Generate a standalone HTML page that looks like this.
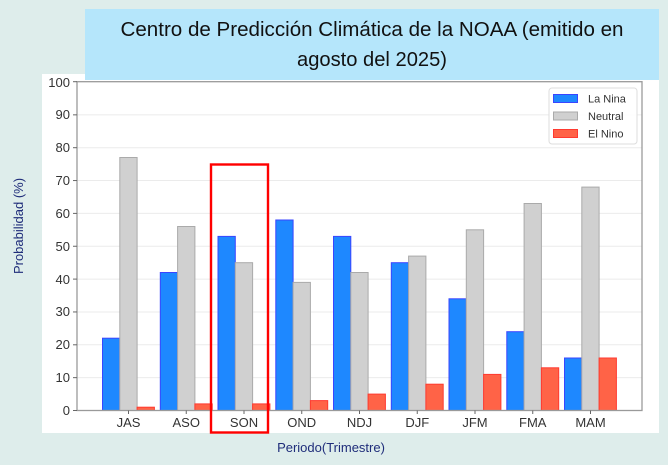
<!DOCTYPE html>
<html><head><meta charset="utf-8"><style>
html,body{margin:0;padding:0;background:#deedeb;}
svg{display:block;}
</style></head><body>
<svg width="668" height="465" viewBox="0 0 668 465" xmlns="http://www.w3.org/2000/svg" font-family="Liberation Sans, DejaVu Sans, sans-serif">
<rect x="0" y="0" width="668" height="465" fill="#deedeb"/>
<!-- white figure -->
<rect x="42" y="74" width="617" height="359" fill="#ffffff"/>
<!-- banner -->
<rect x="85" y="9" width="574" height="71" fill="#b5e6fb"/>
<text x="372" y="36" font-size="20" text-anchor="middle" fill="#111" textLength="503" lengthAdjust="spacingAndGlyphs">Centro de Predicción Climática de la NOAA (emitido en</text>
<text x="372" y="66" font-size="20" text-anchor="middle" fill="#111" textLength="150" lengthAdjust="spacingAndGlyphs">agosto del 2025)</text>
<!-- grid -->
<g stroke="#ebebeb" stroke-width="1">
<line x1="77" x2="642" y1="377.65" y2="377.65"/>
<line x1="77" x2="642" y1="344.8" y2="344.8"/>
<line x1="77" x2="642" y1="311.95" y2="311.95"/>
<line x1="77" x2="642" y1="279.1" y2="279.1"/>
<line x1="77" x2="642" y1="246.25" y2="246.25"/>
<line x1="77" x2="642" y1="213.4" y2="213.4"/>
<line x1="77" x2="642" y1="180.55" y2="180.55"/>
<line x1="77" x2="642" y1="147.7" y2="147.7"/>
<line x1="77" x2="642" y1="114.85" y2="114.85"/>
</g>
<!-- bars -->
<g stroke-width="1">
<!-- JAS c=128.5 -->
<rect x="102.5" y="338.2" width="17.3" height="72.3" fill="#1e88ff" stroke="#3a45ff"/>
<rect x="119.8" y="157.5" width="17.3" height="253" fill="#d0d0d0" stroke="#aaaaaa"/>
<rect x="137.1" y="407.2" width="17.3" height="3.3" fill="#ff6347" stroke="#ff3a30"/>
<!-- ASO c=186.25 -->
<rect x="160.3" y="272.5" width="17.3" height="138" fill="#1e88ff" stroke="#3a45ff"/>
<rect x="177.6" y="226.5" width="17.3" height="184" fill="#d0d0d0" stroke="#aaaaaa"/>
<rect x="194.9" y="403.9" width="17.3" height="6.6" fill="#ff6347" stroke="#ff3a30"/>
<!-- SON c=244 -->
<rect x="218" y="236.4" width="17.3" height="174.1" fill="#1e88ff" stroke="#3a45ff"/>
<rect x="235.3" y="262.7" width="17.3" height="147.8" fill="#d0d0d0" stroke="#aaaaaa"/>
<rect x="252.6" y="403.9" width="17.3" height="6.6" fill="#ff6347" stroke="#ff3a30"/>
<!-- OND c=301.75 -->
<rect x="275.8" y="220" width="17.3" height="190.5" fill="#1e88ff" stroke="#3a45ff"/>
<rect x="293.1" y="282.4" width="17.3" height="128.1" fill="#d0d0d0" stroke="#aaaaaa"/>
<rect x="310.4" y="400.6" width="17.3" height="9.9" fill="#ff6347" stroke="#ff3a30"/>
<!-- NDJ c=359.5 -->
<rect x="333.5" y="236.4" width="17.3" height="174.1" fill="#1e88ff" stroke="#3a45ff"/>
<rect x="350.8" y="272.5" width="17.3" height="138" fill="#d0d0d0" stroke="#aaaaaa"/>
<rect x="368.1" y="394.1" width="17.3" height="16.4" fill="#ff6347" stroke="#ff3a30"/>
<!-- DJF c=417.25 -->
<rect x="391.3" y="262.7" width="17.3" height="147.8" fill="#1e88ff" stroke="#3a45ff"/>
<rect x="408.6" y="256.1" width="17.3" height="154.4" fill="#d0d0d0" stroke="#aaaaaa"/>
<rect x="425.9" y="384.2" width="17.3" height="26.3" fill="#ff6347" stroke="#ff3a30"/>
<!-- JFM c=475 -->
<rect x="449" y="298.8" width="17.3" height="111.7" fill="#1e88ff" stroke="#3a45ff"/>
<rect x="466.3" y="229.8" width="17.3" height="180.7" fill="#d0d0d0" stroke="#aaaaaa"/>
<rect x="483.6" y="374.4" width="17.3" height="36.1" fill="#ff6347" stroke="#ff3a30"/>
<!-- FMA c=532.75 -->
<rect x="506.8" y="331.7" width="17.3" height="78.8" fill="#1e88ff" stroke="#3a45ff"/>
<rect x="524.1" y="203.5" width="17.3" height="207" fill="#d0d0d0" stroke="#aaaaaa"/>
<rect x="541.4" y="367.8" width="17.3" height="42.7" fill="#ff6347" stroke="#ff3a30"/>
<!-- MAM c=590.5 -->
<rect x="564.5" y="358" width="17.3" height="52.5" fill="#1e88ff" stroke="#3a45ff"/>
<rect x="581.8" y="187.1" width="17.3" height="223.4" fill="#d0d0d0" stroke="#aaaaaa"/>
<rect x="599.1" y="358" width="17.3" height="52.5" fill="#ff6347" stroke="#ff3a30"/>
</g>
<!-- spines -->
<rect x="77" y="81.7" width="565" height="328.8" fill="none" stroke="#9a9a9a" stroke-width="1.3"/>
<!-- y ticks -->
<g stroke="#666" stroke-width="1">
<line x1="73" x2="77" y1="410.5" y2="410.5"/>
<line x1="73" x2="77" y1="377.65" y2="377.65"/>
<line x1="73" x2="77" y1="344.8" y2="344.8"/>
<line x1="73" x2="77" y1="311.95" y2="311.95"/>
<line x1="73" x2="77" y1="279.1" y2="279.1"/>
<line x1="73" x2="77" y1="246.25" y2="246.25"/>
<line x1="73" x2="77" y1="213.4" y2="213.4"/>
<line x1="73" x2="77" y1="180.55" y2="180.55"/>
<line x1="73" x2="77" y1="147.7" y2="147.7"/>
<line x1="73" x2="77" y1="114.85" y2="114.85"/>
<line x1="73" x2="77" y1="81.7" y2="81.7"/>
</g>
<g font-size="13" fill="#333" text-anchor="end">
<text x="70" y="415">0</text>
<text x="70" y="382">10</text>
<text x="70" y="349">20</text>
<text x="70" y="316">30</text>
<text x="70" y="284">40</text>
<text x="70" y="251">50</text>
<text x="70" y="218">60</text>
<text x="70" y="185">70</text>
<text x="70" y="152">80</text>
<text x="70" y="119">90</text>
<text x="70" y="87">100</text>
</g>
<!-- x ticks -->
<g stroke="#666" stroke-width="1">
<line x1="128.5" x2="128.5" y1="410.5" y2="414"/>
<line x1="186.25" x2="186.25" y1="410.5" y2="414"/>
<line x1="244" x2="244" y1="410.5" y2="414"/>
<line x1="301.75" x2="301.75" y1="410.5" y2="414"/>
<line x1="359.5" x2="359.5" y1="410.5" y2="414"/>
<line x1="417.25" x2="417.25" y1="410.5" y2="414"/>
<line x1="475" x2="475" y1="410.5" y2="414"/>
<line x1="532.75" x2="532.75" y1="410.5" y2="414"/>
<line x1="590.5" x2="590.5" y1="410.5" y2="414"/>
</g>
<g font-size="13" fill="#333" text-anchor="middle">
<text x="128.5" y="427">JAS</text>
<text x="186.25" y="427">ASO</text>
<text x="244" y="427">SON</text>
<text x="301.75" y="427">OND</text>
<text x="359.5" y="427">NDJ</text>
<text x="417.25" y="427">DJF</text>
<text x="475" y="427">JFM</text>
<text x="532.75" y="427">FMA</text>
<text x="590.5" y="427">MAM</text>
</g>
<!-- highlight box -->
<rect x="211" y="164.5" width="57" height="268" fill="none" stroke="#ff0000" stroke-width="2.4"/>
<!-- legend -->
<rect x="549" y="88" width="88" height="56" rx="3" fill="#ffffff" fill-opacity="0.9" stroke="#dddddd" stroke-width="1"/>
<rect x="553.5" y="94.5" width="24" height="8" fill="#1e88ff" stroke="#3a45ff"/>
<rect x="553.5" y="112" width="24" height="8" fill="#d0d0d0" stroke="#aaaaaa"/>
<rect x="553.5" y="129.5" width="24" height="8" fill="#ff6347" stroke="#ff3a30"/>
<g font-size="11" fill="#333">
<text x="588" y="102.5">La Nina</text>
<text x="588" y="120">Neutral</text>
<text x="588" y="137.5">El Nino</text>
</g>
<!-- axis labels -->
<text x="331" y="452" font-size="13" fill="#1f2d7a" text-anchor="middle">Periodo(Trimestre)</text>
<text transform="translate(23,226) rotate(-90)" font-size="13" fill="#1f2d7a" text-anchor="middle">Probabilidad (%)</text>
</svg>
</body></html>
